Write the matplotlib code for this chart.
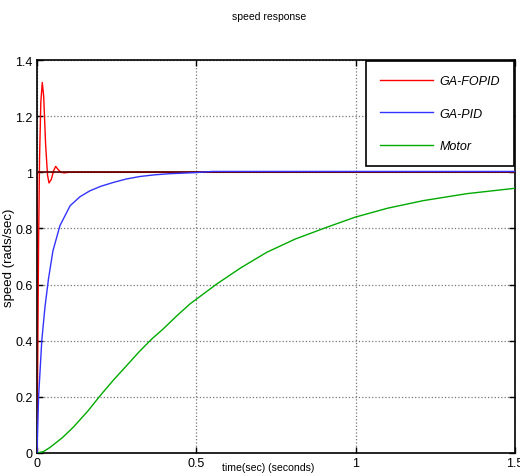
import matplotlib
matplotlib.use("Agg")
import matplotlib.pyplot as plt
import numpy as np

plt.rcParams['font.family'] = ['Liberation Sans', 'DejaVu Sans']

# GA-FOPID response
t_fopid = [0, 0.002, 0.005, 0.008, 0.012, 0.0166, 0.021, 0.027, 0.033, 0.0377,
           0.045, 0.052, 0.0586, 0.066, 0.075, 0.085, 0.1, 1.5]
v_fopid = [0, 0.30, 0.75, 1.05, 1.25, 1.32, 1.27, 1.10, 0.99, 0.962,
           0.975, 1.005, 1.021, 1.010, 1.000, 0.998, 1.0, 1.0]

# GA-PID response
t_pid = [0, 0.005, 0.015, 0.025, 0.036, 0.05, 0.072, 0.104, 0.135, 0.166,
         0.2, 0.24, 0.28, 0.323, 0.37, 0.417, 0.5, 0.55, 1.5]
v_pid = [0, 0.20, 0.40, 0.52, 0.62, 0.72, 0.81, 0.881, 0.913, 0.934,
         0.950, 0.964, 0.976, 0.985, 0.991, 0.995, 0.999, 1.003, 1.003]

# Motor (open loop) response
t_motor = [0, 0.02, 0.041, 0.08, 0.114, 0.16, 0.198, 0.24, 0.281, 0.32, 0.36,
           0.396, 0.44, 0.48, 0.564, 0.64, 0.721, 0.81, 0.909, 0.998, 1.1,
           1.212, 1.35, 1.5]
v_motor = [0, 0.005, 0.02, 0.055, 0.092, 0.15, 0.204, 0.26, 0.311, 0.36, 0.406,
           0.442, 0.49, 0.531, 0.602, 0.66, 0.715, 0.762, 0.804, 0.84, 0.872,
           0.899, 0.924, 0.943]

# reference step
t_ref = [0, 0, 1.5]
v_ref = [0, 1, 1]

x_ticks = [0, 0.5, 1, 1.5]
x_ticklabels = ['0', '0.5', '1', '1.5']
y_ticks = [0, 0.2, 0.4, 0.6, 0.8, 1, 1.2, 1.4]
y_ticklabels = ['0', '0.2', '0.4', '0.6', '0.8', '1', '1.2', '1.4']

W, H = 520, 477
fig = plt.figure(figsize=(W/100, H/100), dpi=100)
ax = fig.add_axes([37/W, 1 - 454/H, (515-37)/W, (454-61)/H])

l1, = ax.plot(t_fopid, v_fopid, color='#ff0000', lw=1.0, label='GA-FOPID', zorder=3)
ax.plot(t_ref, v_ref, color='#5a0000', lw=1.2, zorder=4)
l2, = ax.plot(t_pid, v_pid, color='#3333ff', lw=1.0, label='GA-PID', zorder=5)
l3, = ax.plot(t_motor, v_motor, color='#00aa00', lw=1.0, label='Motor', zorder=3)

ax.set_xlim(0, 1.5)
ax.set_ylim(0, 1.4)
ax.set_xticks(x_ticks)
ax.set_xticklabels(x_ticklabels)
ax.set_yticks(y_ticks)
ax.set_yticklabels(y_ticklabels)
ax.tick_params(direction='in', top=True, right=True, length=4, width=1,
               labelsize=9, pad=3)
for s in ax.spines.values():
    s.set_linewidth(1.2)
ax.grid(True, color='#777777', linestyle=':', linewidth=0.9)

fig.text(269/W, 1 - 17/H, 'speed response', fontsize=7.5, ha='center', va='center')
fig.text(9/W, 1 - 258/H, 'speed (rads/sec)', fontsize=9.5, rotation=90,
         ha='center', va='center')
fig.text(268/W, 1 - 468/H, 'time(sec) (seconds)', fontsize=7.6, ha='center', va='center')

leg = ax.legend(handles=[l1, l2, l3], loc='upper right', fancybox=False,
                framealpha=1, edgecolor='black', borderaxespad=0.1,
                handlelength=4.2, handletextpad=0.55, labelspacing=1.65,
                borderpad=1.1, prop={'style': 'italic', 'size': 9})
leg.get_frame().set_linewidth(1.2)

fig.savefig('out.png', dpi=100)
